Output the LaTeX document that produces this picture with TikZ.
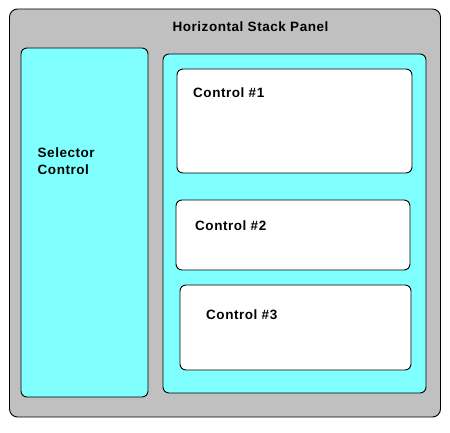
\documentclass[tikz,border=0pt]{standalone}
\usepackage{fontspec}
\setmainfont{Liberation Sans}
\newfontfamily\lblfont[LetterSpace=4]{Liberation Sans}
\usepackage{tikz}
\usetikzlibrary{positioning}
\definecolor{PanelGray}{HTML}{C0C0C0}
\definecolor{PanelCyan}{HTML}{80FFFF}

\begin{document}
\begin{tikzpicture}[
        x=1pt,y=-1pt,
        box/.style={draw=black,line width=0.9pt,rounded corners=6pt,inner sep=0pt,minimum width=#1},
        lbl/.style={font=\lblfont\fontsize{13.5}{17}\selectfont\bfseries,inner sep=0pt,anchor=base west,align=left}
      ]
        \useasboundingbox (0,0) rectangle (450,433);
        \node[box=431pt,fill=PanelGray,rounded corners=8pt,minimum height=408pt] (stack) at (225,213) {};
        \node[box=127pt,fill=PanelCyan,minimum height=349pt] (selector) at (84.5,222.5) {};
        \node[box=263pt,fill=PanelCyan,minimum height=339pt] (items) at (294.5,223.5) {};
        \node[box=235pt,fill=white,minimum height=104pt] (ctrla) at (294.5,121) {};
        \node[box=234pt,fill=white,minimum height=70pt] (ctrlb) at (293,235) {};
        \node[box=231pt,fill=white,minimum height=85pt] (ctrlc) at (295.5,327.5) {};
        \node[lbl,anchor=base] (stacktext) at (250.5,32) {Horizontal Stack Panel};
        \node[lbl] (selectortext) at (37.5,175) {Selector\\Control};
        \node[lbl] (ctrlatext) at (193,98) {Control \#1};
        \node[lbl] (ctrlbtext) at (195,230) {Control \#2};
        \node[lbl] (ctrlctext) at (206,319) {Control \#3};
      \end{tikzpicture}
\end{document}
